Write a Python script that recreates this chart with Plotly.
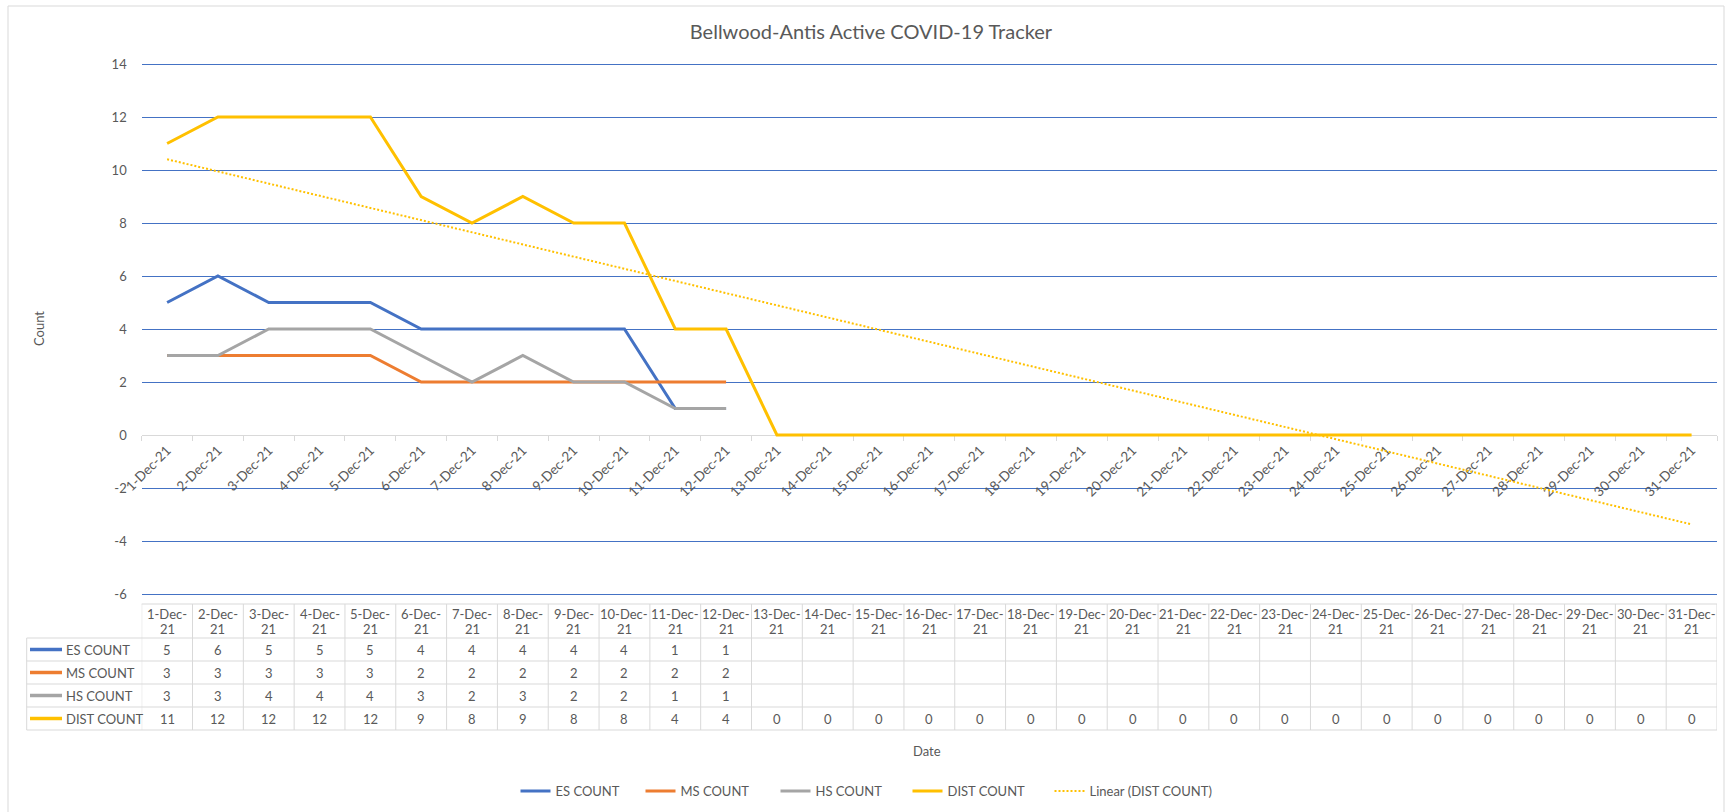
import numpy as np
import plotly.graph_objects as go

# ---------------- data ----------------
dates = ["1-Dec-21", "2-Dec-21", "3-Dec-21", "4-Dec-21", "5-Dec-21", "6-Dec-21", "7-Dec-21",
         "8-Dec-21", "9-Dec-21", "10-Dec-21", "11-Dec-21", "12-Dec-21", "13-Dec-21", "14-Dec-21",
         "15-Dec-21", "16-Dec-21", "17-Dec-21", "18-Dec-21", "19-Dec-21", "20-Dec-21", "21-Dec-21",
         "22-Dec-21", "23-Dec-21", "24-Dec-21", "25-Dec-21", "26-Dec-21", "27-Dec-21", "28-Dec-21",
         "29-Dec-21", "30-Dec-21", "31-Dec-21"]
es_count = [5, 6, 5, 5, 5, 4, 4, 4, 4, 4, 1, 1] + [None] * 19
ms_count = [3, 3, 3, 3, 3, 2, 2, 2, 2, 2, 2, 2] + [None] * 19
hs_count = [3, 3, 4, 4, 4, 3, 2, 3, 2, 2, 1, 1] + [None] * 19
dist_count = [11, 12, 12, 12, 12, 9, 8, 9, 8, 8, 4, 4, 0, 0, 0, 0, 0, 0, 0, 0, 0, 0,
              0, 0, 0, 0, 0, 0, 0, 0, 0]
y_ticks = [14, 12, 10, 8, 6, 4, 2, 0, -2, -4, -6]

series_names = ["ES COUNT", "MS COUNT", "HS COUNT", "DIST COUNT"]
series_colors = ["#4472C4", "#ED7D31", "#A5A5A5", "#FFC000"]
series_values = [es_count, ms_count, hs_count, dist_count]
legend_widths = [80, 90, 87, 97]

# ---------------- layout geometry ----------------
W, H = 1730, 812
PX_L, PX_R = 141.7, 1717.0
PX_T, PX_B = 64.0, 594.0
Y_MIN, Y_MAX = min(y_ticks), max(y_ticks)
PAD = 0.04  # tiny range padding so the outer gridlines are drawn
FONT = "Lato, 'Open Sans', sans-serif"
GREY = "#595959"
BORDER = "#D9D9D9"

TABLE_L = 26.7
TABLE_TOP = 604.0
HEADER_BOTTOM = 638.0
ROW_H = 23.0

def px(x):
    return x / W

def py(y):
    return 1 - y / H

unit_px = (PX_B - PX_T) / (Y_MAX - Y_MIN)
xdom = [px(PX_L), px(PX_R)]
ydom = [py(PX_B + PAD * unit_px), py(PX_T - PAD * unit_px)]
y_range = [Y_MIN - PAD, Y_MAX + PAD]
zero_pos = ydom[0] + (0 - y_range[0]) / (y_range[1] - y_range[0]) * (ydom[1] - ydom[0])

fig = go.Figure()

for name, vals, color, lw in zip(series_names, series_values, series_colors, legend_widths):
    fig.add_trace(go.Scatter(x=dates, y=vals, mode="lines", name=name, legendwidth=lw,
                             line=dict(color=color, width=3), connectgaps=False))

# linear trendline on DIST COUNT (least squares, as Excel does)
xi = np.arange(1, len(dist_count) + 1)
slope, intercept = np.polyfit(xi, np.array(dist_count, dtype=float), 1)
trend = intercept + slope * xi
fig.add_trace(go.Scatter(x=dates, y=trend, mode="lines", name="Linear (DIST COUNT)",
                         line=dict(color="#FFC000", width=2, dash="2px,2px")))

# ---------------- data table (Excel style, below the plot) ----------------
shapes = []
annotations = []
n_rows = len(series_names)
table_bottom = HEADER_BOTTOM + n_rows * ROW_H

for i in range(len(dates) + 1):
    shapes.append(dict(type="line", xref="x", yref="paper", x0=i - 0.5, x1=i - 0.5,
                       y0=py(TABLE_TOP), y1=py(table_bottom), line=dict(color=BORDER, width=1)))
shapes.append(dict(type="line", xref="paper", yref="paper", x0=px(TABLE_L), x1=px(TABLE_L),
                   y0=py(HEADER_BOTTOM), y1=py(table_bottom), line=dict(color=BORDER, width=1)))
shapes.append(dict(type="line", xref="paper", yref="paper", x0=px(PX_L), x1=px(PX_R),
                   y0=py(TABLE_TOP), y1=py(TABLE_TOP), line=dict(color=BORDER, width=1)))
for r in range(n_rows + 1):
    yy = py(HEADER_BOTTOM + r * ROW_H)
    shapes.append(dict(type="line", xref="paper", yref="paper", x0=px(TABLE_L), x1=px(PX_R),
                       y0=yy, y1=yy, line=dict(color=BORDER, width=1)))

cell_font = dict(family=FONT, size=13, color=GREY)
for d in dates:
    top, bottom = d.rsplit("-", 1)
    annotations.append(dict(text=top + "-", x=d, xref="x", y=py(613.5), yref="paper",
                            xanchor="center", yanchor="middle", showarrow=False, font=cell_font))
    annotations.append(dict(text=bottom, x=d, xref="x", y=py(628.5), yref="paper",
                            xanchor="center", yanchor="middle", showarrow=False, font=cell_font))
for r, (name, vals, color) in enumerate(zip(series_names, series_values, series_colors)):
    yc = py(HEADER_BOTTOM + (r + 0.5) * ROW_H)
    shapes.append(dict(type="line", xref="paper", yref="paper", x0=px(30), x1=px(62),
                       y0=yc, y1=yc, line=dict(color=color, width=3.5)))
    annotations.append(dict(text=name, x=px(64), xref="paper", y=yc, yref="paper",
                            xanchor="left", yanchor="middle", showarrow=False, font=cell_font))
    for d, v in zip(dates, vals):
        if v is None:
            continue
        annotations.append(dict(text=str(v), x=d, xref="x", y=yc, yref="paper",
                                xanchor="center", yanchor="middle", showarrow=False,
                                font=cell_font))

annotations += [
    dict(text="Count", x=px(39), y=(ydom[0] + ydom[1]) / 2, xref="paper", yref="paper",
         xanchor="center", yanchor="middle", textangle=-90, showarrow=False,
         font=dict(family=FONT, size=13, color=GREY)),
    dict(text="Date", x=px(927), y=py(751), xref="paper", yref="paper",
         xanchor="center", yanchor="middle", showarrow=False,
         font=dict(family=FONT, size=13, color=GREY)),
]

shapes.append(dict(type="rect", xref="paper", yref="paper", x0=px(8), x1=px(1724),
                   y0=py(816), y1=py(6), line=dict(color=BORDER, width=1),
                   fillcolor="rgba(0,0,0,0)", layer="below"))

fig.update_layout(
    width=W, height=H, template="none",
    margin=dict(l=0, r=0, t=0, b=0, pad=0),
    paper_bgcolor="white", plot_bgcolor="white",
    font=dict(family=FONT, size=13, color=GREY),
    title=dict(text="Bellwood-Antis Active COVID-19 Tracker", x=px(871), y=py(32),
               xanchor="center", yanchor="middle",
               font=dict(family=FONT, size=20, color=GREY)),
    xaxis=dict(domain=xdom, type="category", range=[-0.5, len(dates) - 0.5],
               anchor="free", position=zero_pos, showgrid=False, showline=False,
               zeroline=False, ticks="outside", tickson="boundaries", ticklen=5,
               tickcolor=BORDER, tickangle=-45, layer="below traces", ticklabelstandoff=4,
               tickfont=dict(family=FONT, size=13.5, color=GREY), automargin=False),
    yaxis=dict(domain=ydom, range=y_range, tickvals=y_ticks,
               ticktext=[str(v) for v in y_ticks], showgrid=True,
               gridcolor="#4472C4", gridwidth=1, zeroline=True, zerolinecolor=BORDER,
               zerolinewidth=1, showline=False, ticks="", ticklabelstandoff=14,
               tickfont=dict(family=FONT, size=13, color=GREY), automargin=False),
    legend=dict(orientation="h", x=px(515.5), xanchor="left", y=py(791),
                yanchor="middle", font=dict(family=FONT, size=13, color=GREY),
                bgcolor="rgba(0,0,0,0)", borderwidth=0),
    showlegend=True,
    annotations=annotations,
    shapes=shapes,
)

fig.write_html("out.html", config={"displayModeBar": False},
               post_script="document.body.style.margin='0px';")
